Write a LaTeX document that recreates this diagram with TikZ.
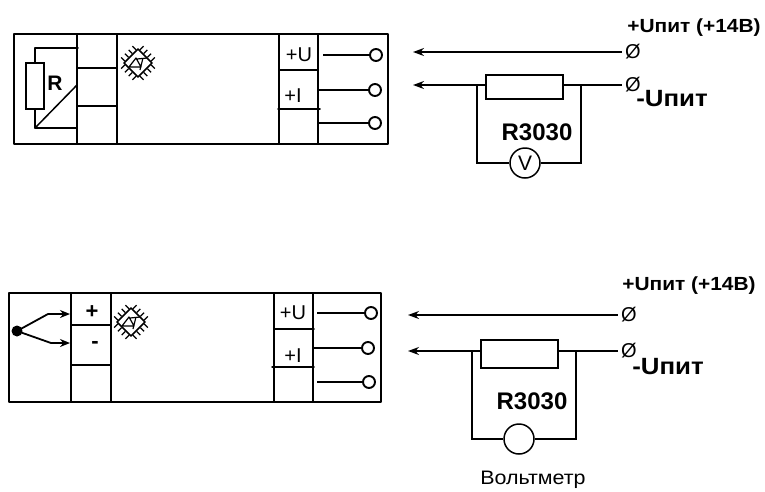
\documentclass[tikz,border=0pt]{standalone}
\usepackage{fontspec}
\setmainfont{Liberation Sans}
\newfontfamily\widefont[FakeStretch=1.1]{Liberation Sans}
\usetikzlibrary{arrows.meta}
\tikzset{
  base/.style={draw=black, line width=1.5pt, line cap=round, line join=round},
  wire/.style={draw=black, line width=1.5pt},
  arr/.style={wire, -{Stealth[length=11pt,width=8pt]}},
  arrs/.style={draw=black, line width=1.8pt, line join=round, -{Stealth[length=10pt,width=8pt]}},
  term/.style={circle, draw=black, line width=1.9pt, fill=white, minimum size=12pt, inner sep=0pt},
  meter/.style={circle, draw=black, line width=1.5pt, fill=white, minimum size=30pt, inner sep=0pt, font=\fontsize{21}{21}\selectfont},
  res/.style={rectangle, draw=black, line width=1.6pt, fill=white, inner sep=0pt},
  pin/.style={inner ysep=0pt, inner xsep=3.5pt, font=\fontsize{20}{20}\selectfont},
  lab/.style={inner sep=0pt, font=\fontsize{19}{19}\widefont\bfseries},
  labb/.style={inner sep=0pt, font=\fontsize{23.5}{23.5}\widefont\bfseries},
  labr/.style={inner sep=0pt, font=\fontsize{24}{24}\selectfont\bfseries},
  cell/.style={inner sep=0pt, font=\fontsize{20}{20}\selectfont},
  sign/.style={inner sep=0pt, font=\fontsize{22}{22}\selectfont\bfseries},
  chip/.pic={
    \draw[line width=1.5pt, line join=round] (-14,0)--(0,-14)--(14,0)--(0,14)--cycle;
    \foreach \a in {0,90,180,270}
      \foreach \s in {-8,-2.7,2.7,8}
        \draw[rotate=\a, line width=1.3pt] (7.6+\s*0.707,7.6-\s*0.707) -- ++(3.6,3.6);
    \draw[line width=1.2pt, line join=round] (-9,4)--(-2,-5)--(3,4)--cycle (-1,-4)--(9,-5) (5,-5)--(2,7);
  }
}
\begin{document}
\begin{tikzpicture}[x=1pt,y=-1pt]
  \useasboundingbox (0,0) rectangle (765,491);
  % upper device
  \draw[base] (14,34) rectangle (388,144);
  \draw[base] (77,34)--(77,144) (117,34)--(117,144) (279,34)--(279,144) (318,34)--(318,144);
  \draw[base] (77,68)--(117,68) (77,106)--(117,106) (279,70)--(318,70) (278,109)--(320,109);
  \node[res, minimum width=18pt, minimum height=46pt] (R) at (35,86) {};
  \coordinate (Rt) at (35,48);
  \coordinate (Rb) at (35,128);
  \draw[base] (R.north)--(Rt)--(78,48);
  \draw[base] (R.south)--(Rb)--(77,128);
  \draw[base] (Rb)--(77,85);
  \node[inner sep=0pt, font=\fontsize{21}{21}\selectfont\bfseries] at (55,83) {R};
  \pic at (138,63) {chip};
  \node[cell] at (299,55) {+U};
  \node[cell] at (293,96) {+I};
  \node[term] (a1) at (376,55) {};
  \node[term] (a2) at (375,90) {};
  \node[term] (a3) at (375,123) {};
  \coordinate (a1w) at (323,55);
  \coordinate (a2w) at (318,90);
  \coordinate (a3w) at (317,123);
  \draw[wire] (a1w)--(a1);
  \draw[wire] (a2w)--(a2);
  \draw[wire] (a3w)--(a3);
  % upper supply
  \node[pin] (p1) at (633,52) {Ø};
  \node[pin] (p2) at (633,85) {Ø};
  \coordinate (e1) at (413,52);
  \coordinate (e2) at (413,85);
  \draw[arr] (p1)--(e1);
  \draw[arr] (p2)--(e2);
  \node[res, minimum width=77pt, minimum height=24pt] (Rs) at (524.5,87) {};
  \coordinate (lt) at (477,85);
  \coordinate (rt) at (581,85);
  \node[meter] (V) at (525,163) {V};
  \draw[wire] (lt)--(lt |- V)--(V);
  \draw[wire] (rt)--(rt |- V)--(V);
  \node[labr] at (537,132) {R3030};
  \node[lab] at (694,28) {+Uпит (+14В)};
  \node[labb] at (672,99) {-Uпит};
  % lower device
  \draw[base] (9,293) rectangle (381,402);
  \draw[base] (71,293)--(71,402) (111,293)--(111,402) (274,293)--(274,402) (313,293)--(313,402);
  \draw[base] (71,325)--(111,325) (71,365)--(111,365) (274,329)--(314,329) (272,367)--(314,367);
  \node[circle, fill=black, minimum size=11pt, inner sep=0pt] (J) at (17,331) {};
  \coordinate (j1) at (48,314);
  \coordinate (j2) at (51,343);
  \coordinate (j3) at (70,314);
  \coordinate (j4) at (70,343);
  \draw[arrs] (J.center)--(j1)--(j3);
  \draw[arrs] (J.center)--(j2)--(j4);
  \node[sign] at (92,312) {+};
  \node[sign] at (95,345) {-};
  \pic at (131,322) {chip};
  \node[cell] at (293,313) {+U};
  \node[cell] at (293,356) {+I};
  \node[term] (b1) at (371,313) {};
  \node[term] (b2) at (368,348) {};
  \node[term] (b3) at (369,382) {};
  \coordinate (b1w) at (317,313);
  \coordinate (b2w) at (313,348);
  \coordinate (b3w) at (317,382);
  \draw[wire] (b1w)--(b1);
  \draw[wire] (b2w)--(b2);
  \draw[wire] (b3w)--(b3);
  % lower supply
  \node[pin] (q1) at (629,315) {Ø};
  \node[pin] (q2) at (629,351) {Ø};
  \coordinate (f1) at (408,315);
  \coordinate (f2) at (408,351);
  \draw[arr] (q1)--(f1);
  \draw[arr] (q2)--(f2);
  \node[res, minimum width=77pt, minimum height=28pt] (Rq) at (519.5,354) {};
  \coordinate (ll) at (472,351);
  \coordinate (rl) at (576,351);
  \node[meter] (W) at (519,439) {};
  \draw[wire] (ll)--(ll |- W)--(W);
  \draw[wire] (rl)--(rl |- W)--(W);
  \node[labr] at (532,401) {R3030};
  \node[inner sep=0pt, font=\fontsize{19.5}{19.5}\widefont] at (533,480) {Вольтметр};
  \node[lab] at (689,286) {+Uпит (+14В)};
  \node[labb] at (668,367) {-Uпит};
\end{tikzpicture}
\end{document}
